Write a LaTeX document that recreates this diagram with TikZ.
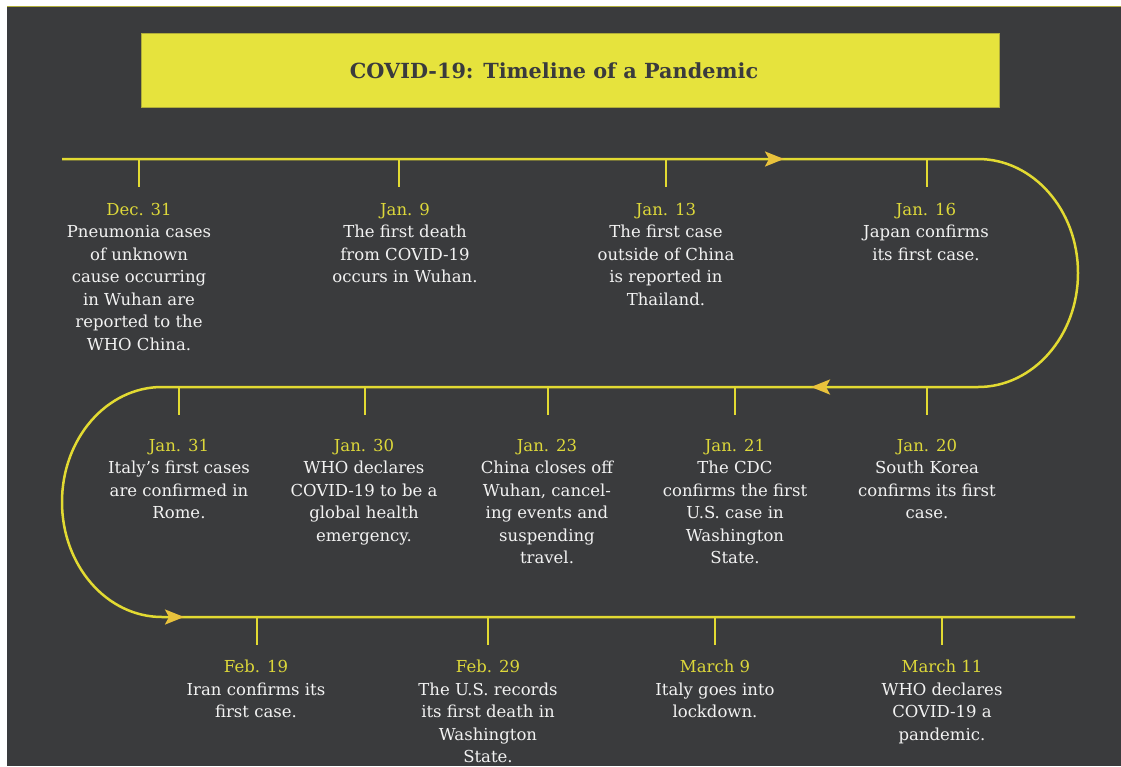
\documentclass[tikz,border=0pt]{standalone}
\usepackage{fontspec}
\setmainfont{DejaVu Serif}
\usetikzlibrary{arrows.meta,positioning}
\definecolor{bgdark}{HTML}{3A3B3D}
\definecolor{boxyellow}{HTML}{E6E33D}
\definecolor{boxedge}{HTML}{B0AD3A}
\definecolor{lineyellow}{HTML}{E2DA32}
\definecolor{tipyellow}{HTML}{E9C23C}
\definecolor{datecol}{HTML}{DDD83A}
\definecolor{bodycol}{HTML}{F2F2F2}
\newcommand{\evdate}[1]{\textcolor{datecol}{#1}}
\tikzset{
  timeline/.style={draw=lineyellow,line width=2.5pt},
  tickmark/.style={draw=lineyellow,line width=2.5pt},
  flowtip/.style={draw=lineyellow,line width=2.5pt,
    -{Stealth[length=19pt,width=15pt,inset=4pt,color=tipyellow]}},
  event/.style={text=bodycol,align=center,inner sep=0pt,anchor=north,
    font=\fontsize{16.5}{22.5}\selectfont},
}

\begin{document}
\begin{tikzpicture}[x=1pt,y=-1pt]

\useasboundingbox (0,0) rectangle (1121,766);
\fill[white] (0,0) rectangle (1121,766);
\fill[bgdark] (7,6) rectangle (1121,766);
\draw[boxedge,line width=1pt] (7,6.5) -- (1121,6.5);

% title
\node[draw=boxedge,fill=boxyellow,minimum width=858pt,minimum height=74pt,
  inner sep=0pt] (titlebox) at (570,70) {};
\node[text=bgdark,font=\fontsize{20.8}{24}\selectfont\bfseries] (title) at (554,71)
  {COVID-19: Timeline of a Pandemic};

% the path
\coordinate (start) at (62,159);
\coordinate (finish) at (1075,617);
\draw[timeline] (start) -- (978,159)
  arc[start angle=-90,end angle=90,x radius=100,y radius=114]
  -- (162,387)
  arc[start angle=270,end angle=90,x radius=100,y radius=115]
  -- (finish);

\coordinate (a1) at (760,159);
\coordinate (a2) at (835,387);
\coordinate (a3) at (160,617);
\draw[flowtip] (a1) -- ++(24,0);
\draw[flowtip] (a2) -- ++(-24,0);
\draw[flowtip] (a3) -- ++(24,0);

% ticks
\foreach \tx/\ty in {139/159,399/159,666/159,927/159,
                     179/387,365/387,548/387,735/387,927/387,
                     257/617,488/617,715/617,942/617}
  \draw[tickmark] (\tx,\ty) -- ++(0,28);

% top row
\node[event] (dec31) at (139,203) {\evdate{Dec. 31}\\Pneumonia cases\\of unknown\\
  cause occurring\\in Wuhan are\\reported to the\\WHO China.};
\node[event] (jan9) at (405,203) {\evdate{Jan. 9}\\The first death\\from COVID-19\\
  occurs in Wuhan.};
\node[event] (jan13) at (666,203) {\evdate{Jan. 13}\\The first case\\outside of China\\
  is reported in\\Thailand.};
\node[event] (jan16) at (926,203) {\evdate{Jan. 16}\\Japan confirms\\its first case.};

% middle row
\node[event] (jan31) at (179,439) {\evdate{Jan. 31}\\Italy’s first cases\\
  are confirmed in\\Rome.};
\node[event] (jan30) at (364,439) {\evdate{Jan. 30}\\WHO declares\\COVID-19 to be a\\
  global health\\emergency.};
\node[event] (jan23) at (547,439) {\evdate{Jan. 23}\\China closes off\\Wuhan, cancel-\\
  ing events and\\suspending\\travel.};
\node[event] (jan21) at (735,439) {\evdate{Jan. 21}\\The CDC\\confirms the first\\
  U.S. case in\\Washington\\State.};
\node[event] (jan20) at (927,439) {\evdate{Jan. 20}\\South Korea\\confirms its first\\case.};

% bottom row
\node[event] (feb19) at (256,660) {\evdate{Feb. 19}\\Iran confirms its\\first case.};
\node[event] (feb29) at (488,660) {\evdate{Feb. 29}\\The U.S. records\\
  its first death in\\Washington\\State.};
\node[event] (mar9) at (715,660) {\evdate{March 9}\\Italy goes into\\lockdown.};
\node[event] (mar11) at (942,660) {\evdate{March 11}\\WHO declares\\COVID-19 a\\pandemic.};

\end{tikzpicture}
\end{document}
